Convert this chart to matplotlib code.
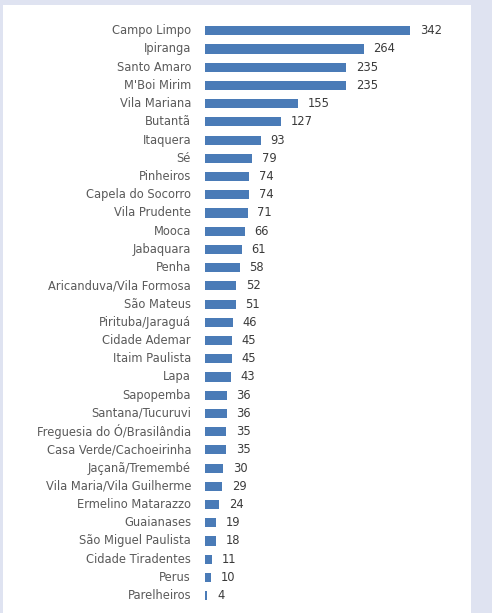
import matplotlib
matplotlib.use("Agg")
import matplotlib.pyplot as plt
from matplotlib.patches import Rectangle

categories = [
    "Campo Limpo", "Ipiranga", "Santo Amaro", "M'Boi Mirim", "Vila Mariana",
    "Butantã", "Itaquera", "Sé", "Pinheiros", "Capela do Socorro",
    "Vila Prudente", "Mooca", "Jabaquara", "Penha", "Aricanduva/Vila Formosa",
    "São Mateus", "Pirituba/Jaraguá", "Cidade Ademar", "Itaim Paulista", "Lapa",
    "Sapopemba", "Santana/Tucuruvi", "Freguesia do Ó/Brasilândia",
    "Casa Verde/Cachoeirinha", "Jaçanã/Tremembé", "Vila Maria/Vila Guilherme",
    "Ermelino Matarazzo", "Guaianases", "São Miguel Paulista",
    "Cidade Tiradentes", "Perus", "Parelheiros",
]
values = [342, 264, 235, 235, 155, 127, 93, 79, 74, 74, 71, 66, 61, 58, 52,
          51, 46, 45, 45, 43, 36, 36, 35, 35, 30, 29, 24, 19, 18, 11, 10, 4]

W, H = 492, 613
fig = plt.figure(figsize=(W / 100, H / 100), dpi=100)
fig.patch.set_facecolor("#dfe3f1")
fig.add_artist(Rectangle((3 / W, 0), 468 / W, 1 - 5 / H,
                         transform=fig.transFigure, facecolor="white",
                         edgecolor="none", zorder=-10))

ax = fig.add_axes([205 / W, 1 - 606.6 / H, 260 / W, (606.6 - 19.8) / H])
ax.set_zorder(5)
ax.set_facecolor("none")
y = list(range(len(categories)))
ax.barh(y, values, height=0.5, color="#4a7bb7", edgecolor="none")
ax.set_yticks(y)
ax.set_yticklabels(categories, fontsize=8.3, color="#5a5a5a", va="center")
ax.set_ylim(len(categories) - 0.4, -0.6)
ax.set_xlim(0, 433)
ax.tick_params(axis="y", length=0, pad=10)
ax.set_xticks([])
for s in ax.spines.values():
    s.set_visible(False)
for yi, v in zip(y, values):
    ax.annotate(str(v), (v, yi), xytext=(7, 0), textcoords="offset points",
                va="center", ha="left", fontsize=8.3, color="#3a3a3a")

fig.savefig("out.png", dpi=100, facecolor=fig.get_facecolor())
